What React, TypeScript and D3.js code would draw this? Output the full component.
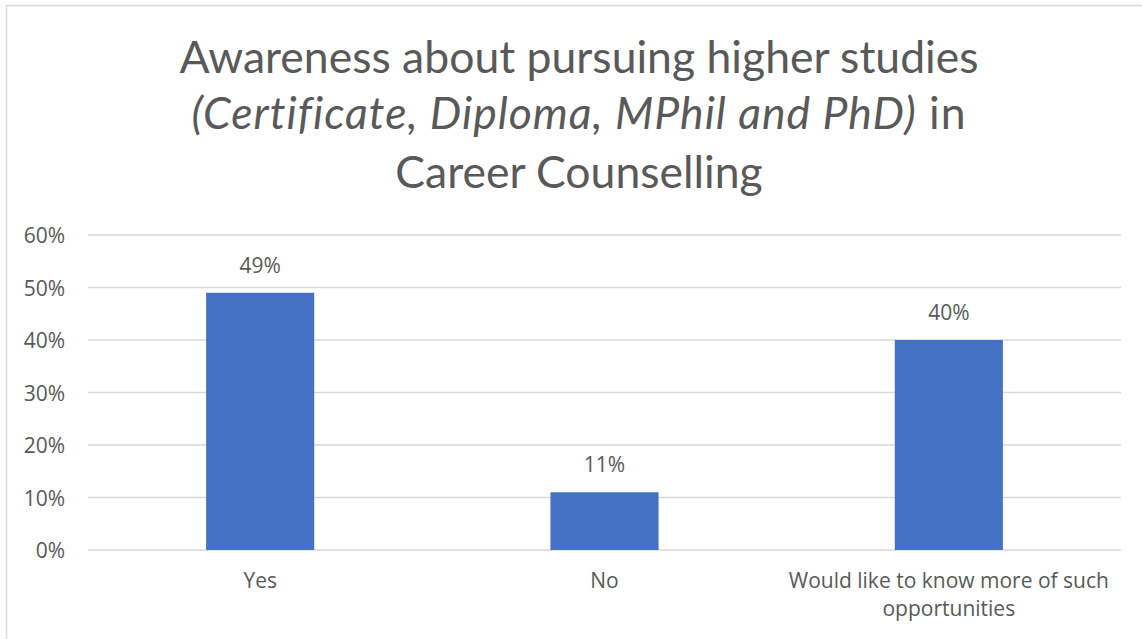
import React from "react";
import * as d3 from "d3";

const categories = ["Yes", "No", "Would like to know more of such opportunities"];
const categoryLines = [["Yes"], ["No"], ["Would like to know more of such", "opportunities"]];
const values = [0.49, 0.11, 0.40];
const yTicks = [0, 0.1, 0.2, 0.3, 0.4, 0.5, 0.6];

const W = 1142;
const H = 639;
const plotLeft = 88;
const plotRight = 1121;
const plotTop = 235;
const plotBottom = 550;

export default function App() {
  const x = d3
    .scaleBand<string>()
    .domain(categories)
    .range([plotLeft, plotRight])
    .paddingInner(0.686)
    .paddingOuter(0.343);
  const y = d3.scaleLinear().domain([0, 0.6]).range([plotBottom, plotTop]);
  const fmt = d3.format(".0%");
  const font = "'Open Sans', sans-serif";
  const grey = "#595959";
  const fs = 21;

  return (
    <svg
      width={W}
      height={H}
      style={{ position: "absolute", left: 0, top: 0, display: "block", background: "#fff" }}
    >
      <rect x={6.5} y={5.5} width={W} height={H} fill="#fff" stroke="#d9d9d9" strokeWidth={1.5} />
      <g fontFamily="Lato, sans-serif" fontSize={44.5} fill={grey} textAnchor="middle">
        <text x={579} y={73}>Awareness about pursuing higher studies</text>
        <text x={579} y={129} letterSpacing={1}>
          <tspan fontStyle="italic">(Certificate, Diploma, MPhil and PhD)</tspan>
          <tspan> in</tspan>
        </text>
        <text x={579} y={188}>Career Counselling</text>
      </g>
      <g>
        {yTicks.map((t) => (
          <line
            key={t}
            x1={plotLeft}
            x2={plotRight}
            y1={y(t)}
            y2={y(t)}
            stroke="#d9d9d9"
            strokeWidth={1.5}
          />
        ))}
        {yTicks.map((t) => (
          <text
            key={"l" + t}
            x={65}
            y={y(t) + 8}
            textAnchor="end"
            fontFamily={font}
            fontSize={fs}
            fill={grey}
          >
            {fmt(t)}
          </text>
        ))}
      </g>
      <g>
        {categories.map((c, i) => (
          <rect
            key={c}
            x={x(c)}
            y={y(values[i])}
            width={x.bandwidth()}
            height={y(0) - y(values[i])}
            fill="#4472c4"
          />
        ))}
        {categories.map((c, i) => (
          <text
            key={"v" + c}
            x={(x(c) ?? 0) + x.bandwidth() / 2}
            y={y(values[i]) - 20}
            textAnchor="middle"
            fontFamily={font}
            fontSize={fs}
            fill={grey}
          >
            {fmt(values[i])}
          </text>
        ))}
        {categories.map((c, i) => (
          <text
            key={"c" + c}
            x={(x(c) ?? 0) + x.bandwidth() / 2}
            y={588}
            textAnchor="middle"
            fontFamily={font}
            fontSize={fs}
            fill={grey}
          >
            {categoryLines[i].map((ln, j) => (
              <tspan key={j} x={(x(c) ?? 0) + x.bandwidth() / 2} dy={j === 0 ? 0 : 28}>
                {ln}
              </tspan>
            ))}
          </text>
        ))}
      </g>
    </svg>
  );
}
